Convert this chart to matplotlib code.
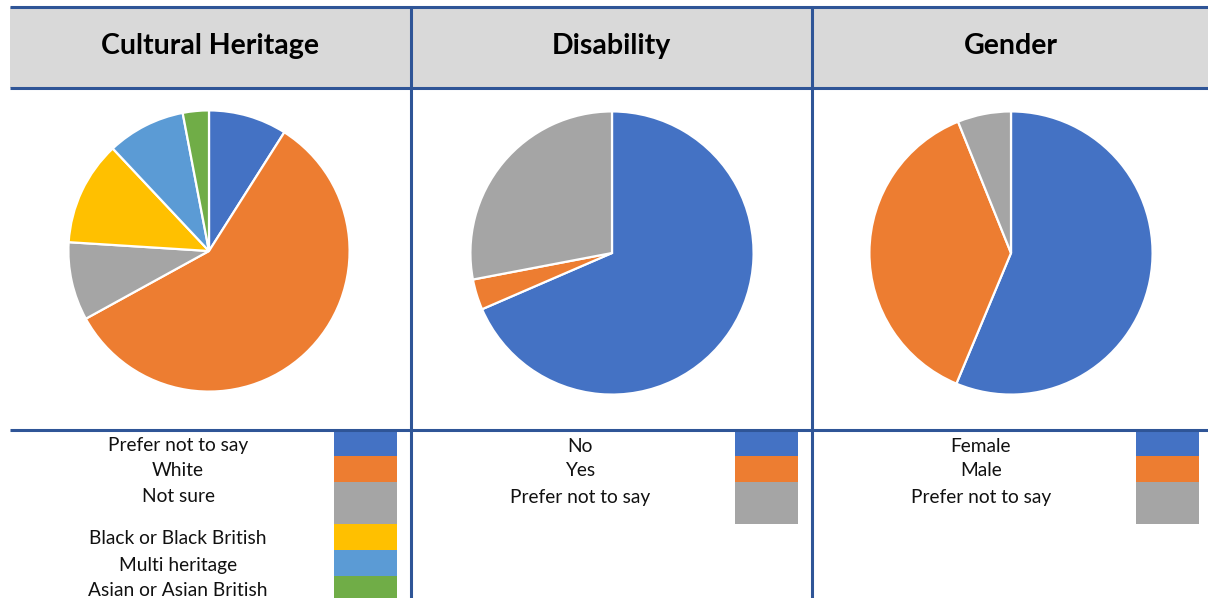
import matplotlib
matplotlib.use("Agg")
import matplotlib.pyplot as plt
from matplotlib.patches import Rectangle

# ---- data ----
titles = ["Cultural Heritage", "Disability", "Gender"]

heritage_labels = ["Prefer not to say", "White", "Not sure",
                   "Black or Black British", "Multi heritage", "Asian or Asian British"]
heritage_values = [9, 58, 9, 12, 9, 3]

disability_labels = ["No", "Yes", "Prefer not to say"]
disability_values = [68.5, 3.5, 28]

gender_labels = ["Female", "Male", "Prefer not to say"]
gender_values = [56.3, 37.6, 6.1]

palette = ["#4472C4", "#ED7D31", "#A5A5A5", "#FFC000", "#5B9BD5", "#70AD47"]

# ---- layout (pixels) ----
W, H = 1208, 598
LINE = "#2F5597"
FONT = "Lato"

fig = plt.figure(figsize=(W / 100, H / 100), dpi=100)
bg = fig.add_axes([0, 0, 1, 1])
bg.set_xlim(0, W)
bg.set_ylim(H, 0)
bg.axis("off")

# header band
bg.add_patch(Rectangle((10, 7), W - 10, 81, facecolor="#D9D9D9", edgecolor="none", zorder=0))
for y in (7, 88, 430):
    bg.plot([10, W], [y, y], color=LINE, lw=2.2, solid_capstyle="butt", zorder=3)
for x in (411, 812):
    bg.plot([x, x], [6, H], color=LINE, lw=2.2, solid_capstyle="butt", zorder=3)

col_text_cx = [178, 580, 981]
col_title_cx = [210, 611, 1011]
swatch_x = [334, 735, 1136]
swatch_w = 63

for cx, t in zip(col_title_cx, titles):
    bg.text(cx, 46, t, ha="center", va="center", fontsize=20.5, fontweight="bold",
            family=FONT, color="black")

# pies
centers = [(209, 251, 142), (612, 253, 143), (1011, 253, 143)]
series = [heritage_values, disability_values, gender_values]
for (cx, cy, r), vals in zip(centers, series):
    ax = fig.add_axes([(cx - r) / W, 1 - (cy + r) / H, 2 * r / W, 2 * r / H])
    ax.pie(vals, colors=palette[:len(vals)], startangle=90, counterclock=False,
           wedgeprops=dict(edgecolor="white", linewidth=1.6), radius=1.0)
    ax.set_xlim(-1.01, 1.01)
    ax.set_ylim(-1.01, 1.01)
    ax.set_aspect("equal")
    ax.axis("off")

# legends (row heights in pixels)
heritage_rows = [25, 26, 42, 26, 26, 26]
short_rows = [25, 26, 42]
legend_sets = [(heritage_labels, heritage_rows), (disability_labels, short_rows),
               (gender_labels, short_rows)]
for i, (labels, rows) in enumerate(legend_sets):
    y = 431
    for j, (lab, h) in enumerate(zip(labels, rows)):
        bg.add_patch(Rectangle((swatch_x[i], y), swatch_w, h, facecolor=palette[j],
                               edgecolor="none", zorder=1))
        bg.text(col_text_cx[i], y + 15, lab, ha="center", va="center", fontsize=13.8,
                family=FONT, color="#111111")
        y += h

fig.savefig("out.png", dpi=100)
